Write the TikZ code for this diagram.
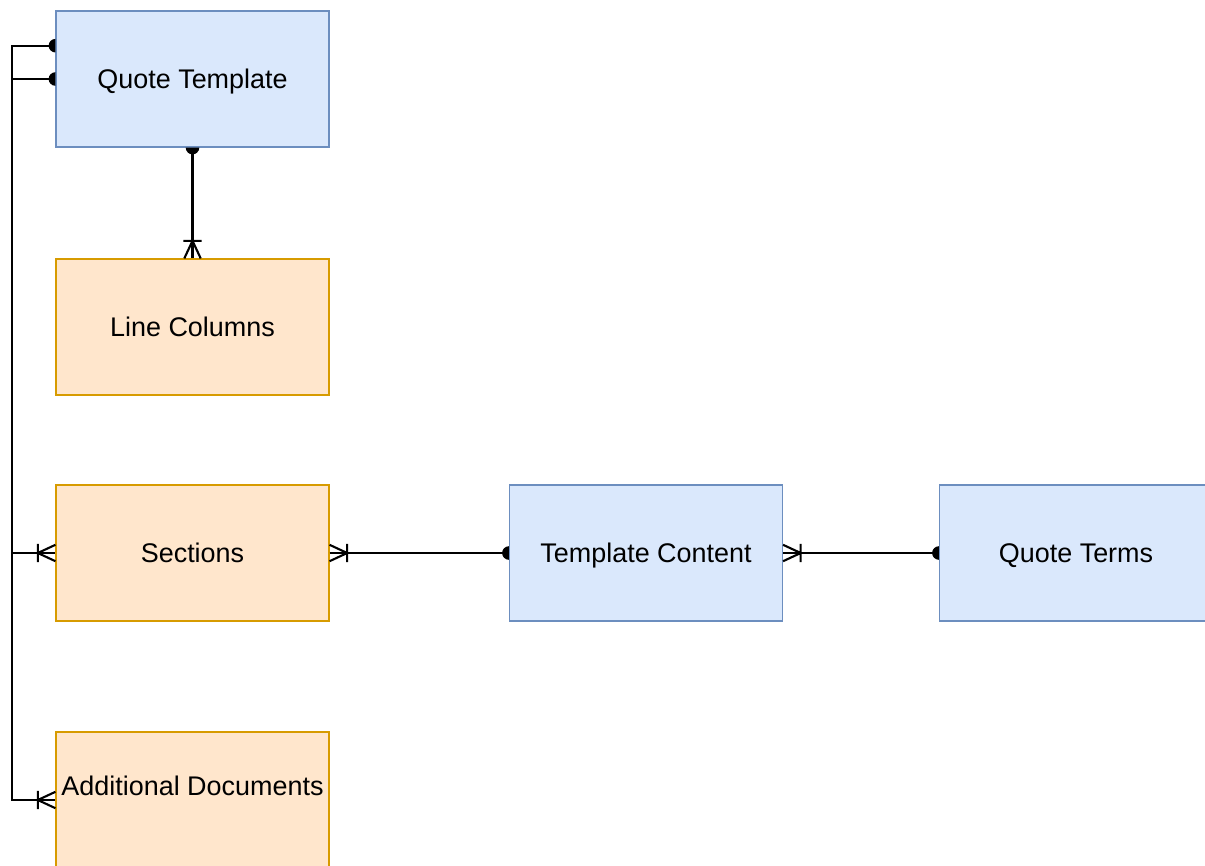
\documentclass[tikz,border=0pt]{standalone}
\usepackage{fontspec}
\setmainfont{Liberation Sans}
\usetikzlibrary{arrows.meta}

% Crow's foot "one or many": bar plus three prongs opening onto the entity
\pgfdeclarearrow{
  name = ERmany,
  setup code = {
    \pgfarrowssettipend{0pt}
    \pgfarrowssetlineend{0pt}
    \pgfarrowssetbackend{-15pt}
    \pgfarrowssetvisualbackend{-15pt}
    \pgfarrowsupperhullpoint{0pt}{7pt}
    \pgfarrowsupperhullpoint{-15pt}{7.7pt}
  },
  drawing code = {
    \pgfsetdash{}{0pt}
    \pgfsetmiterjoin
    \pgfpathmoveto{\pgfqpoint{0pt}{7pt}}
    \pgfpathlineto{\pgfqpoint{-15pt}{0pt}}
    \pgfpathlineto{\pgfqpoint{0pt}{-7pt}}
    \pgfpathmoveto{\pgfqpoint{-15pt}{7.7pt}}
    \pgfpathlineto{\pgfqpoint{-15pt}{-7.7pt}}
    \pgfusepathqstroke
  }
}

% Half disc sitting flat on the entity border
\pgfdeclarearrow{
  name = ERdot,
  setup code = {
    \pgfarrowssettipend{0pt}
    \pgfarrowssetlineend{-4.5pt}
    \pgfarrowssetbackend{-5.8pt}
    \pgfarrowssetvisualbackend{-5.8pt}
    \pgfarrowsupperhullpoint{0pt}{5.8pt}
    \pgfarrowsupperhullpoint{-5.8pt}{5.8pt}
  },
  drawing code = {
    \pgfpathmoveto{\pgfqpoint{0pt}{5.8pt}}
    \pgfpatharc{90}{270}{5.8pt}
    \pgfpathclose
    \pgfusepathqfill
  }
}

\definecolor{blueFill}{HTML}{DAE8FC}
\definecolor{blueLine}{HTML}{6C8EBF}
\definecolor{orangeFill}{HTML}{FFE6CC}
\definecolor{orangeLine}{HTML}{D79B00}

\tikzset{
  label font/.style={font=\fontsize{23}{28}\selectfont, text height=16.5pt, text depth=0pt},
  entity/.style={draw, line width=1pt, minimum width=273*0.03cm, minimum height=136*0.03cm,
    inner sep=0pt, label font},
  blueent/.style={entity, fill=blueFill, draw=blueLine},
  orangeent/.style={entity, fill=orangeFill, draw=orangeLine},
  rel/.style={line width=1.8pt, black},
}

\begin{document}
\begin{tikzpicture}[x=0.03cm, y=-0.03cm]
  \useasboundingbox (0,0) rectangle (1205,865);
  \clip (0,0) rectangle (1205,865);

  % entities
  \node[blueent]   (qt) at (192.5,79)  {Quote Template};
  \node[orangeent] (lc) at (192.5,327) {Line Columns};
  \node[orangeent] (sec) at (192.5,553) {Sections};
  \node[orangeent] (ad) at (192.5,800) {};
  \node[label font] (adtext) at (192.5,786) {Additional Documents};
  \node[blueent]   (tc) at (646,553)  {Template Content};
  \node[blueent]   (terms) at (1076,553) {Quote Terms};

  % vertical lane on the left
  \coordinate (lane) at (12,0);

  % relationships
  \draw[rel, {ERdot}-{ERmany}] (qt.south) -- (lc.north);
  \draw[rel, {ERdot}-{ERmany}] ([yshift=1cm]qt.west) -| (lane |- ad.west) -- (ad.west);
  \draw[rel, {ERdot}-{ERmany}] (qt.west) -| (lane |- sec.west) -- (sec.west);
  \draw[rel, {ERmany}-{ERdot}] (sec.east) -- (tc.west);
  \draw[rel, {ERmany}-{ERdot}] (tc.east) -- (terms.west);
\end{tikzpicture}
\end{document}
